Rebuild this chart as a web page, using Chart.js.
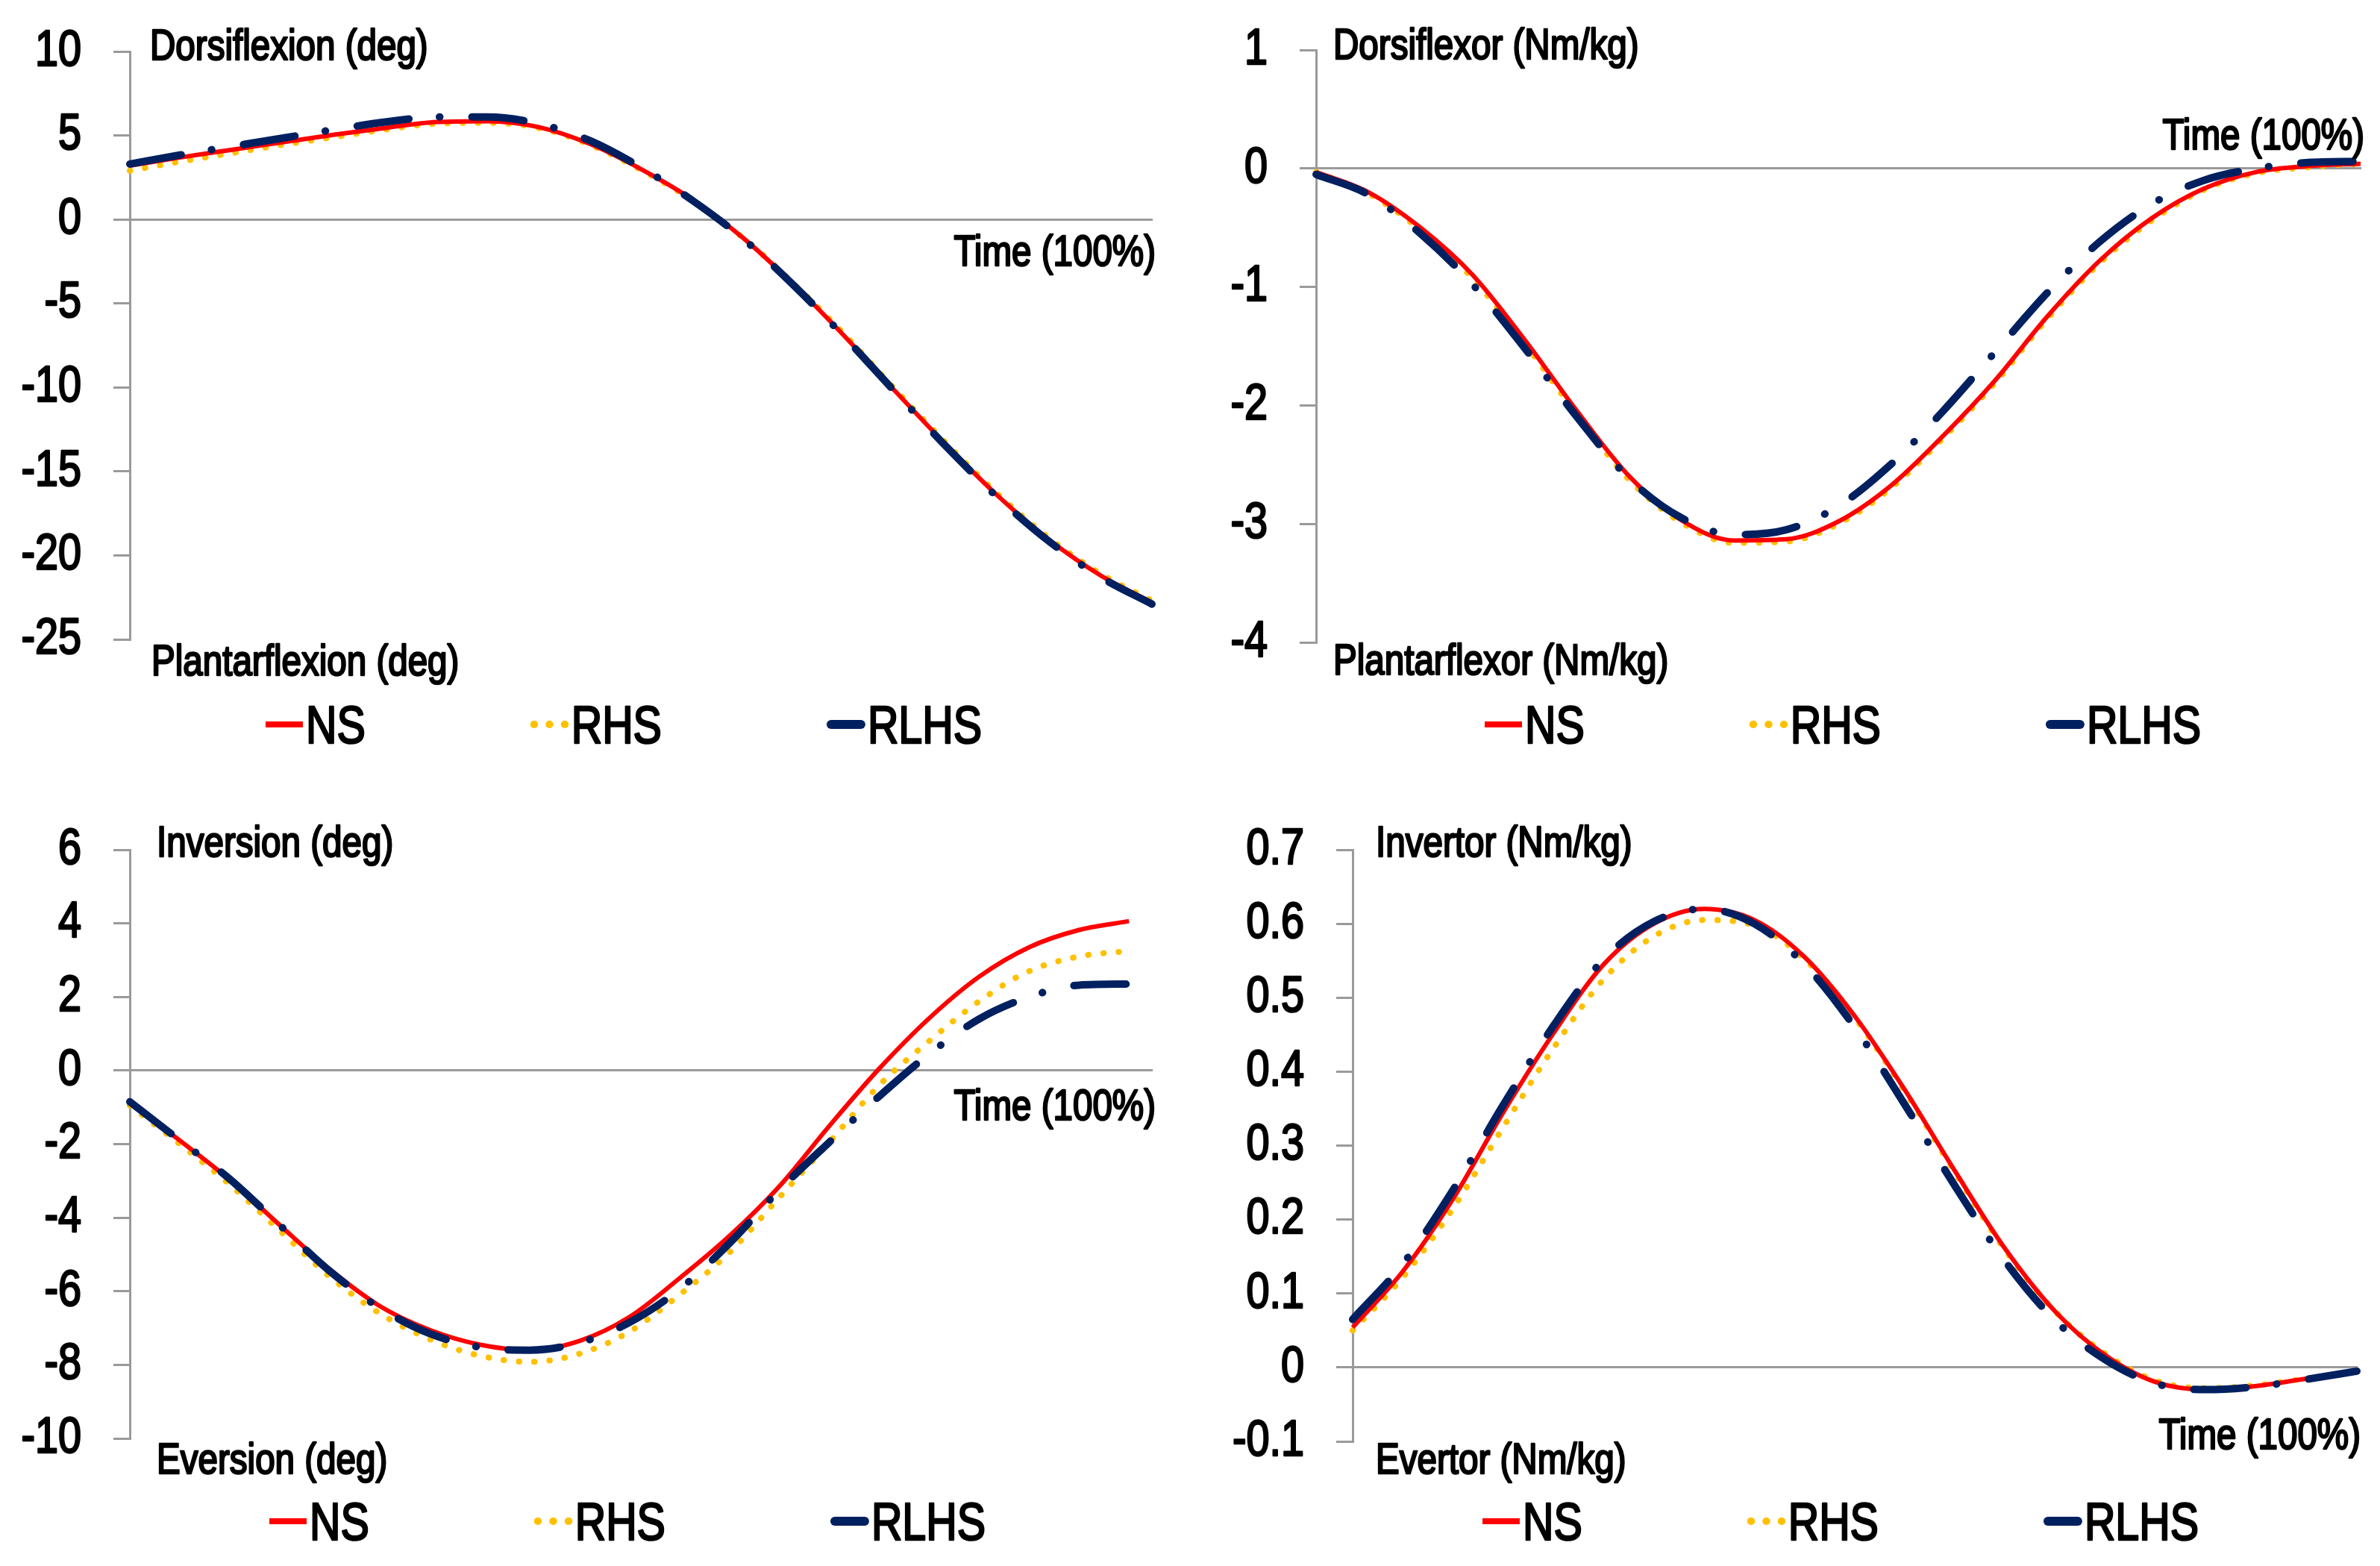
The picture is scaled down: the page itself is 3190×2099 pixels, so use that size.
<!DOCTYPE html>
<html>
<head>
<meta charset="utf-8">
<title>Ankle kinematics and kinetics</title>
<script src="https://cdn.jsdelivr.net/npm/chart.js@4.4.1/dist/chart.umd.min.js"></script>
<style>
  html, body { margin: 0; padding: 0; background: #fff; overflow: hidden; }
  #page { position: relative; width: 3190px; height: 2099px; }
  canvas { position: absolute; }
</style>
</head>
<body>
<div id="page">
  <canvas id="dorsiAngle" width="1595" height="1090" style="left:0;top:-40px"></canvas>
  <canvas id="dorsiMoment" width="1595" height="1090" style="left:1595px;top:-40px"></canvas>
  <canvas id="invAngle" width="1595" height="1089" style="left:0;top:1010px"></canvas>
  <canvas id="invMoment" width="1595" height="1089" style="left:1595px;top:1010px"></canvas>
</div>
<script>
// time axis, percent of stance
const timePct = [0, 5, 10, 15, 20, 25, 30, 35, 40, 45, 50, 55, 60, 65, 70, 75, 80, 85, 90, 95, 100];

// dorsiflexion / plantarflexion angle (deg)
const dorsiAngleNS   = [3.2, 3.7, 4.15, 4.6, 5.05, 5.45, 5.8, 5.85, 5.5, 4.5, 3.0, 1.2, -1.1, -3.9, -7.0, -10.3, -13.5, -16.5, -19.1, -21.2, -22.8];
const dorsiAngleRHS  = [2.9, 3.45, 3.95, 4.45, 4.9, 5.35, 5.7, 5.75, 5.45, 4.45, 2.95, 1.15, -1.1, -3.85, -6.9, -10.2, -13.4, -16.4, -19.0, -21.1, -22.7];
const dorsiAngleRLHS = [3.3, 3.85, 4.35, 4.85, 5.35, 5.8, 6.1, 6.1, 5.7, 4.7, 3.1, 1.15, -1.15, -3.95, -7.05, -10.35, -13.6, -16.6, -19.2, -21.3, -22.9];

// dorsiflexor / plantarflexor moment (Nm/kg)
const dorsiMomentNS   = [-0.03, -0.2, -0.5, -0.9, -1.45, -2.05, -2.6, -2.97, -3.14, -3.13, -2.98, -2.68, -2.26, -1.79, -1.25, -0.78, -0.42, -0.17, -0.03, 0.02, 0.04];
const dorsiMomentRHS  = [-0.03, -0.21, -0.52, -0.93, -1.48, -2.08, -2.63, -2.99, -3.16, -3.15, -3.0, -2.7, -2.28, -1.81, -1.27, -0.8, -0.44, -0.18, -0.04, 0.01, 0.04];
const dorsiMomentRLHS = [-0.05, -0.22, -0.55, -0.98, -1.52, -2.1, -2.62, -2.95, -3.09, -3.05, -2.85, -2.5, -2.05, -1.55, -1.05, -0.62, -0.3, -0.1, 0.0, 0.05, 0.06];

// inversion / eversion angle (deg)
const invAngleNS   = [-0.86, -1.9, -2.97, -4.2, -5.4, -6.4, -7.05, -7.45, -7.6, -7.35, -6.7, -5.65, -4.5, -3.15, -1.51, 0.05, 1.42, 2.55, 3.35, 3.82, 4.06];
const invAngleRHS  = [-0.95, -2.0, -3.1, -4.35, -5.6, -6.6, -7.3, -7.75, -7.92, -7.7, -7.1, -6.1, -4.95, -3.45, -1.95, -0.4, 0.8, 1.88, 2.7, 3.1, 3.25];
const invAngleRLHS = [-0.85, -1.9, -2.95, -4.2, -5.45, -6.45, -7.15, -7.52, -7.6, -7.4, -6.85, -5.95, -4.7, -3.25, -1.95, -0.7, 0.45, 1.4, 2.0, 2.32, 2.35];

// invertor / evertor moment (Nm/kg)
const invMomentNS   = [0.054, 0.13, 0.228, 0.345, 0.452, 0.545, 0.6, 0.62, 0.605, 0.555, 0.475, 0.375, 0.265, 0.16, 0.075, 0.016, -0.02, -0.03, -0.025, -0.015, -0.005];
const invMomentRHS  = [0.05, 0.122, 0.215, 0.325, 0.432, 0.525, 0.583, 0.605, 0.598, 0.552, 0.473, 0.373, 0.263, 0.158, 0.075, 0.018, -0.018, -0.028, -0.024, -0.015, -0.006];
const invMomentRLHS = [0.065, 0.14, 0.24, 0.355, 0.462, 0.552, 0.603, 0.62, 0.6, 0.545, 0.46, 0.355, 0.245, 0.143, 0.063, 0.01, -0.022, -0.03, -0.026, -0.016, -0.005];

// y tick labels
const dorsiAngleTicks  = [10, 5, 0, -5, -10, -15, -20, -25];
const dorsiMomentTicks = [1, 0, -1, -2, -3, -4];
const invAngleTicks    = [6, 4, 2, 0, -2, -4, -6, -8, -10];
const invMomentTicks   = [0.7, 0.6, 0.5, 0.4, 0.3, 0.2, 0.1, 0, -0.1];

const FONT = '"Liberation Sans", Arial, sans-serif';
const NARROW = 0.82;          // no narrow face installed, so squeeze the regular one
const AXIS_GREY = '#9a9a9a';
const TICK_LEN = 22;
const TICK_PAD = 43;

function pts(values) {
    return values.map((v, i) => ({ x: timePct[i], y: v }));
}

function seriesSet(ns, rhs, rlhs) {
    return [
        { label: 'NS', data: pts(ns), borderColor: '#ff0000', borderWidth: 6, order: 1 },
        { label: 'RHS', data: pts(rhs), borderColor: '#ffc000', borderWidth: 8,
          borderDash: [0.5, 20], borderCapStyle: 'round', order: 2 },
        { label: 'RLHS', data: pts(rlhs), borderColor: '#002060', borderWidth: 10,
          borderDash: [70, 41, 0.5, 43], borderCapStyle: 'round', order: 0 }
    ];
}

function narrowText(ctx, text, x, y, align, baseline) {
    ctx.save();
    ctx.translate(x, y);
    ctx.scale(NARROW, 1);
    ctx.textAlign = align;
    ctx.textBaseline = baseline;
    ctx.fillText(text, 0, 0);
    ctx.strokeText(text, 0, 0);
    ctx.restore();
}

// tick labels, axis captions and legend drawn on each panel
const panelText = {
    id: 'panelText',
    afterDraw(chart, args, opts) {
        const ctx = chart.ctx;
        const area = chart.chartArea;
        const yScale = chart.scales.y;
        const zeroY = yScale.getPixelForValue(0);

        ctx.save();
        ctx.fillStyle = '#000';
        ctx.strokeStyle = '#000';
        ctx.lineWidth = 2.6;
        ctx.lineJoin = 'round';

        ctx.font = '68px ' + FONT;
        yScale.ticks.forEach(t => {
            narrowText(ctx, String(t.value), area.left - TICK_LEN - TICK_PAD,
                yScale.getPixelForValue(t.value), 'right', 'middle');
        });

        ctx.font = '58px ' + FONT;
        narrowText(ctx, opts.upper, area.left + opts.upperDx, area.top + opts.upperDy, 'left', 'alphabetic');
        narrowText(ctx, opts.lower, area.left + opts.lowerDx, area.bottom + opts.lowerDy, 'left', 'alphabetic');
        const timeBase = opts.timeFrom === 'bottom' ? area.bottom : zeroY;
        narrowText(ctx, 'Time (100%)', area.right + 5, timeBase + opts.timeDy, 'right', 'alphabetic');

        // legend
        const size = 70, mark = 50, gap = 4, itemGap = 222;
        ctx.font = size + 'px ' + FONT;
        const sets = chart.data.datasets;
        const widths = sets.map(ds => mark + gap + ctx.measureText(ds.label).width * NARROW);
        const total = widths.reduce((a, b) => a + b, 0) + itemGap * (sets.length - 1);
        let x = opts.legendCenter - total / 2;
        const ly = area.bottom + opts.legendDy;
        sets.forEach((ds, i) => {
            const round = ds.borderCapStyle === 'round';
            const inset = round ? ds.borderWidth / 2 : 0;
            ctx.save();
            ctx.beginPath();
            ctx.strokeStyle = ds.borderColor;
            ctx.lineWidth = ds.borderWidth + 2;
            ctx.lineCap = round ? 'round' : 'butt';
            ctx.setLineDash(ds.borderDash || []);
            ctx.moveTo(x + inset, ly);
            ctx.lineTo(x + mark - inset, ly);
            ctx.stroke();
            ctx.restore();
            narrowText(ctx, ds.label, x + mark + gap, ly + size * 0.36, 'left', 'alphabetic');
            x += widths[i] + itemGap;
        });
        ctx.restore();
    }
};

function makePanel(canvasId, sets, cfg) {
    return new Chart(document.getElementById(canvasId), {
        type: 'line',
        data: { datasets: sets },
        options: {
            responsive: false,
            animation: false,
            devicePixelRatio: 1,
            layout: { padding: cfg.padding },
            elements: {
                point: { radius: 0 },
                line: { cubicInterpolationMode: 'monotone', fill: false }
            },
            datasets: { line: { clip: false } },
            plugins: {
                legend: { display: false },
                tooltip: { enabled: false },
                panelText: cfg.text
            },
            scales: {
                x: {
                    type: 'linear',
                    min: 0,
                    max: cfg.xMax,
                    position: { y: 0 },
                    grid: { display: true, drawOnChartArea: false, drawTicks: false },
                    ticks: { display: false },
                    border: { color: AXIS_GREY, width: 3 },
                    afterFit: s => { s.height = 0; }
                },
                y: {
                    type: 'linear',
                    min: cfg.ticks[cfg.ticks.length - 1],
                    max: cfg.ticks[0],
                    afterFit: s => { s.width = cfg.yWidth; },
                    afterBuildTicks: s => { s.ticks = cfg.ticks.map(v => ({ value: v })); },
                    ticks: { display: false },
                    grid: {
                        drawOnChartArea: false,
                        drawTicks: true,
                        tickLength: TICK_LEN,
                        color: AXIS_GREY,
                        lineWidth: 3
                    },
                    border: { color: AXIS_GREY, width: 3 }
                }
            }
        },
        plugins: [panelText]
    });
}

document.addEventListener('DOMContentLoaded', function () {
    makePanel('dorsiAngle', seriesSet(dorsiAngleNS, dorsiAngleRHS, dorsiAngleRLHS), {
        padding: { left: 0, top: 109, right: 51, bottom: 193 },
        yWidth: 174, xMax: 100, ticks: dorsiAngleTicks,
        text: {
            upper: 'Dorsiflexion (deg)', upperDx: 27, upperDy: 11,
            lower: 'Plantarflexion (deg)', lowerDx: 29, lowerDy: 48,
            timeFrom: 'zero', timeDy: 62,
            legendCenter: 836, legendDy: 114
        }
    });

    makePanel('dorsiMoment', seriesSet(dorsiMomentNS, dorsiMomentRHS, dorsiMomentRLHS), {
        padding: { left: 0, top: 107, right: 26, bottom: 189 },
        yWidth: 169, xMax: 100, ticks: dorsiMomentTicks,
        text: {
            upper: 'Dorsiflexor (Nm/kg)', upperDx: 23, upperDy: 12,
            lower: 'Plantarflexor (Nm/kg)', lowerDx: 23, lowerDy: 43,
            timeFrom: 'zero', timeDy: -26,
            legendCenter: 875, legendDy: 110
        }
    });

    makePanel('invAngle', seriesSet(invAngleNS, invAngleRHS, invAngleRLHS), {
        padding: { left: 0, top: 129, right: 51, bottom: 171 },
        yWidth: 174, xMax: 102.3, ticks: invAngleTicks,
        text: {
            upper: 'Inversion (deg)', upperDx: 36, upperDy: 9,
            lower: 'Eversion (deg)', lowerDx: 36, lowerDy: 47,
            timeFrom: 'zero', timeDy: 66,
            legendCenter: 841, legendDy: 111
        }
    });

    makePanel('invMoment', seriesSet(invMomentNS, invMomentRHS, invMomentRLHS), {
        padding: { left: 0, top: 129, right: 31, bottom: 167 },
        yWidth: 218, xMax: 100, ticks: invMomentTicks,
        text: {
            upper: 'Invertor (Nm/kg)', upperDx: 31, upperDy: 9,
            lower: 'Evertor (Nm/kg)', lowerDx: 31, lowerDy: 43,
            timeFrom: 'bottom', timeDy: 10,
            legendCenter: 872, legendDy: 107
        }
    });
});
</script>
</body>
</html>
